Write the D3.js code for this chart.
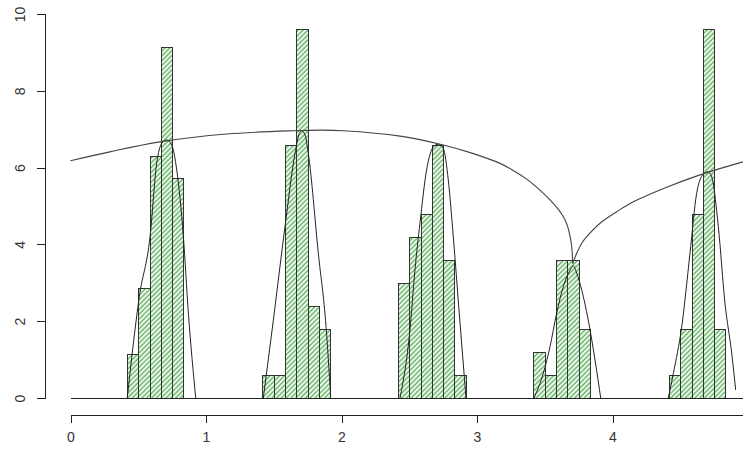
<!DOCTYPE html>
<html>
<head>
<meta charset="utf-8">
<title>Histogram clusters with density curves</title>
<script src="https://cdn.jsdelivr.net/npm/d3@7"></script>
<style>
  html, body { margin: 0; padding: 0; background: #fff; }
  svg { display: block; font-family: "Liberation Sans", Arial, sans-serif; }
  .axis path, .axis line { stroke: #222; stroke-width: 1; shape-rendering: crispEdges; }
  .axis text { fill: #333; font-size: 14px; }
  .bar { stroke: #333; stroke-width: 1; shape-rendering: crispEdges; }
  .dens { fill: none; stroke: #222; stroke-width: 1; }
  .arc { fill: none; stroke: #444; stroke-width: 1.1; }
</style>
</head>
<body>
<div id="chart"></div>
<script>
// ─────────────────────────────────────────────
// Five histogram clusters (hatched green bars), a density curve
// per cluster and one long envelope curve with a cusp near x = 3.7.
// Values.
// ─────────────────────────────────────────────

const binWidth = 0.08333;

// left edge of the first bin of each cluster
const clusterStarts = [0.4167, 1.4167, 2.4167, 3.4167, 4.4167];

// bar heights (density) per cluster, left to right
const heights1 = [1.14, 2.86, 6.30, 9.15, 5.73];
const heights2 = [0.60, 0.60, 6.60, 9.60, 2.40, 1.80];
const heights3 = [3.00, 4.20, 4.80, 6.60, 3.60, 0.60];
const heights4 = [1.20, 0.60, 3.60, 3.60, 1.80];
const heights5 = [0.60, 1.80, 4.80, 9.60, 1.80];

// density curves, [x, y]
const density1 = [[0.419, 0.0], [0.508, 2.64], [0.587, 4.20], [0.636, 6.11], [0.673, 6.63],
  [0.710, 6.72], [0.747, 6.59], [0.784, 5.94], [0.833, 4.20], [0.870, 2.21], [0.924, 0.0]];
const density2 = [[1.423, 0.0], [1.497, 2.03], [1.583, 4.46], [1.657, 6.37], [1.689, 6.89],
  [1.706, 6.96], [1.731, 6.85], [1.755, 6.37], [1.829, 3.77], [1.886, 1.86], [1.920, 0.05]];
const density3 = [[2.432, 0.0], [2.505, 1.77], [2.542, 3.33], [2.579, 4.55], [2.628, 5.94],
  [2.678, 6.54], [2.714, 6.61], [2.751, 6.50], [2.788, 5.68], [2.825, 4.20], [2.869, 2.21], [2.919, 0.0]];
const density4 = [[3.421, 0.0], [3.489, 0.64], [3.539, 1.34], [3.588, 2.21], [3.637, 2.90],
  [3.681, 3.29], [3.711, 3.44], [3.736, 3.25], [3.773, 2.81], [3.821, 2.03], [3.871, 0.99], [3.913, 0.0]];
const density5 = [[4.412, 0.0], [4.449, 0.64], [4.511, 1.86], [4.572, 3.77], [4.621, 5.33],
  [4.670, 5.83], [4.703, 5.89], [4.732, 5.76], [4.781, 4.46], [4.830, 2.47], [4.880, 1.16], [4.909, 0.21]];

// envelope curve: left branch down to the cusp, right branch up from it
const arcLeft = [[0.0, 6.18], [0.29, 6.41], [0.66, 6.67], [1.153, 6.875], [1.644, 6.96],
  [1.85, 6.975], [2.013, 6.96], [2.432, 6.82], [2.751, 6.59], [2.95, 6.39], [3.170, 6.11],
  [3.27, 5.92], [3.367, 5.70], [3.45, 5.46], [3.539, 5.16], [3.60, 4.91], [3.637, 4.72],
  [3.666, 4.50], [3.686, 4.22], [3.700, 3.90], [3.706, 3.50]];
const arcRight = [[3.706, 3.50], [3.736, 3.77], [3.773, 4.03], [3.810, 4.20], [3.908, 4.55],
  [4.031, 4.85], [4.153, 5.11], [4.40, 5.49], [4.646, 5.81], [4.963, 6.15]];

const xTicks = [0, 1, 2, 3, 4];
const yTicks = [0, 2, 4, 6, 8, 10];

(function () {
  "use strict";

  const W = 743, H = 449;
  const X0 = 70.5, PX_PER_UNIT = 135.5;
  const xMax = (W - X0) / PX_PER_UNIT;

  const x = d3.scaleLinear().domain([0, xMax]).range([X0, W]);
  const y = d3.scaleLinear().domain([0, 10]).range([398, 14]);

  const svg = d3.select("#chart").append("svg")
    .attr("width", W)
    .attr("height", H)
    .attr("viewBox", `0 0 ${W} ${H}`);

  // hatch fill "///"
  const defs = svg.append("defs");
  const pat = defs.append("pattern")
    .attr("id", "hatch")
    .attr("patternUnits", "userSpaceOnUse")
    .attr("width", 3.4)
    .attr("height", 3.4)
    .attr("patternTransform", "rotate(45)");
  pat.append("rect").attr("width", 3.4).attr("height", 3.4).attr("fill", "#eef8ee");
  pat.append("line")
    .attr("x1", 1).attr("x2", 1).attr("y1", 0).attr("y2", 3.4)
    .attr("stroke", "#45a545").attr("stroke-width", 1.1);

  defs.append("clipPath").attr("id", "plotclip")
    .append("rect").attr("x", 45).attr("y", 0).attr("width", W - 45).attr("height", H);

  const plot = svg.append("g").attr("clip-path", "url(#plotclip)");

  // histogram bars
  const clusters = [heights1, heights2, heights3, heights4, heights5];
  const bars = [];
  clusters.forEach((hs, ci) => {
    hs.forEach((h, i) => {
      const x0 = clusterStarts[ci] + i * binWidth;
      bars.push({ x0: x0, x1: x0 + binWidth, h: h });
    });
  });

  plot.selectAll("rect.bar")
    .data(bars)
    .join("rect")
    .attr("class", "bar")
    .attr("x", (d) => Math.round(x(d.x0)) + 0.5)
    .attr("width", (d) => Math.round(x(d.x1)) - Math.round(x(d.x0)))
    .attr("y", (d) => Math.round(y(d.h)) + 0.5)
    .attr("height", (d) => Math.round(y(0)) - Math.round(y(d.h)))
    .attr("fill", "url(#hatch)");

  // baseline at y = 0
  plot.append("line")
    .attr("x1", x(0)).attr("x2", x(xMax))
    .attr("y1", Math.round(y(0)) + 0.5).attr("y2", Math.round(y(0)) + 0.5)
    .attr("stroke", "#222")
    .attr("shape-rendering", "crispEdges");

  const densLine = d3.line()
    .x((d) => x(d[0]))
    .y((d) => y(d[1]))
    .curve(d3.curveMonotoneX);

  const arcLine = d3.line()
    .x((d) => x(d[0]))
    .y((d) => y(d[1]))
    .curve(d3.curveCatmullRom.alpha(0.5));

  plot.selectAll("path.dens")
    .data([density1, density2, density3, density4, density5])
    .join("path")
    .attr("class", "dens")
    .attr("d", densLine);

  plot.selectAll("path.arc")
    .data([arcLeft, arcRight])
    .join("path")
    .attr("class", "arc")
    .attr("d", arcLine);

  // x axis, drawn a little below the baseline
  svg.append("g")
    .attr("class", "axis axis--x")
    .attr("transform", "translate(0,414.5)")
    .call(d3.axisBottom(x).tickValues(xTicks).tickSizeOuter(0).tickSize(8).tickPadding(10)
      .tickFormat(d3.format("d")))
    .call((g) => g.selectAll("text").attr("dy", "0.71em"));

  // y axis with rotated labels
  const yAxis = svg.append("g")
    .attr("class", "axis axis--y")
    .attr("transform", "translate(44.5,0)")
    .call(d3.axisLeft(y).tickValues(yTicks).tickSizeOuter(0).tickSize(8)
      .tickFormat(d3.format("d")));

  yAxis.selectAll(".tick text")
    .attr("x", null)
    .attr("dy", null)
    .attr("text-anchor", "middle")
    .attr("transform", "translate(-20,0) rotate(-90)");
})();
</script>
</body>
</html>
